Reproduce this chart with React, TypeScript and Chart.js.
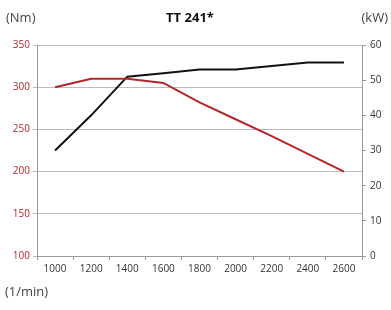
import React, { useEffect, useRef } from "react";
import { Chart, registerables } from "chart.js";

Chart.register(...registerables);

const rpm = ["1000", "1200", "1400", "1600", "1800", "2000", "2200", "2400", "2600"];
const torqueNm = [300, 310, 310, 305, 282, 262, 242, 221, 200];
const powerKw = [30, 40, 51, 52, 53, 53, 54, 55, 55];
const title = "TT 241*";
const leftUnit = "(Nm)";
const rightUnit = "(kW)";
const xUnit = "(1/min)";

const FONT = "'Open Sans', 'Liberation Sans', sans-serif";

const labelsPlugin = {
  id: "unitLabels",
  afterDraw(chart: any) {
    const ctx = chart.ctx;
    ctx.save();
    ctx.textBaseline = "middle";
    ctx.fillStyle = "#444";
    ctx.font = `13px ${FONT}`;
    ctx.textAlign = "left";
    ctx.fillText(leftUnit, 6, 18);
    ctx.textAlign = "right";
    ctx.fillText(rightUnit, 388, 18);
    ctx.textAlign = "left";
    ctx.fillText(xUnit, 5, 292);
    ctx.fillStyle = "#111";
    ctx.font = `bold 13px ${FONT}`;
    ctx.textAlign = "center";
    ctx.fillText(title, 190, 18);
    ctx.restore();
  },
};

export default function App() {
  const ref = useRef<HTMLCanvasElement | null>(null);
  useEffect(() => {
    const chart = new Chart(ref.current as HTMLCanvasElement, {
      type: "line",
      data: {
        labels: rpm,
        datasets: [
          {
            label: "Nm",
            data: torqueNm,
            yAxisID: "y",
            borderColor: "#b3262b",
            borderWidth: 2,
            pointRadius: 0,
            tension: 0,
          },
          {
            label: "kW",
            data: powerKw,
            yAxisID: "y1",
            borderColor: "#111111",
            borderWidth: 2,
            pointRadius: 0,
            tension: 0,
          },
        ],
      },
      options: {
        responsive: false,
        animation: false,
        layout: { padding: { top: 45, left: 0, right: 0, bottom: 0 } },
        plugins: { legend: { display: false }, tooltip: { enabled: false } },
        scales: {
          x: {
            type: "category",
            offset: true,
            grid: { display: true, drawOnChartArea: false, drawTicks: true, tickLength: 4, color: "#999", offset: true },
            border: { display: true, color: "#999" },
            ticks: { color: "#333", font: { size: 10, family: FONT }, padding: 3, maxRotation: 0, autoSkip: false },
            afterFit: (s: any) => { s.height = 54; },
          },
          y: {
            position: "left",
            min: 100,
            max: 350,
            ticks: { stepSize: 50, color: "#b3262b", font: { size: 10, family: FONT }, padding: 3 },
            grid: { color: "#bbb", tickLength: 4, drawTicks: true },
            border: { display: true, color: "#999" },
            afterFit: (s: any) => { s.width = 37; },
          },
          y1: {
            position: "right",
            min: 0,
            max: 60,
            ticks: { stepSize: 10, color: "#333", font: { size: 10, family: FONT }, padding: 4 },
            grid: { drawOnChartArea: false, tickLength: 4, color: "#999" },
            border: { display: true, color: "#999" },
            afterFit: (s: any) => { s.width = 29; },
          },
        },
      },
      plugins: [labelsPlugin],
    } as any);
    return () => chart.destroy();
  }, []);
  return (
    <div style={{ position: "fixed", left: 0, top: 0, width: 391, height: 310, background: "#fff" }}>
      <canvas ref={ref} width={391} height={310} />
    </div>
  );
}
